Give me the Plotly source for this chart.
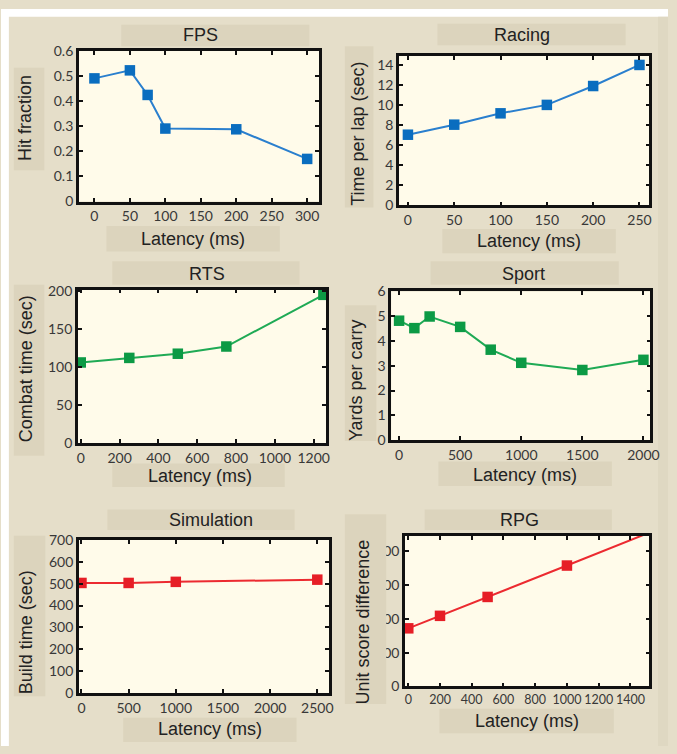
import plotly.graph_objects as go

W, H = 677, 754

# ---------------- data ----------------
fps_x = [0, 50, 75, 100, 200, 300]
fps_y = [0.491, 0.523, 0.425, 0.291, 0.288, 0.170]

racing_x = [0, 50, 100, 150, 200, 250]
racing_y = [7.05, 8.05, 9.18, 10.02, 11.9, 14.0]

rts_x = [0, 250, 500, 750, 1250]
rts_y = [106, 112, 117.5, 127, 195]

sport_x = [0, 125, 250, 500, 750, 1000, 1500, 2000]
sport_y = [4.82, 4.52, 4.99, 4.57, 3.65, 3.12, 2.83, 3.24]

sim_x = [0, 500, 1000, 2500]
sim_y = [503, 503, 508, 518]

rpg_x = [0, 200, 500, 1000]
rpg_y = [172, 209, 265, 358]
rpg_line_x = [0, 200, 500, 1000, 1500]
rpg_line_y = [172, 209, 265, 358, 452]

titles = ["FPS", "Racing", "RTS", "Sport", "Simulation", "RPG"]
ylabels = ["Hit fraction", "Time per lap (sec)", "Combat time (sec)",
           "Yards per carry", "Build time (sec)", "Unit score difference"]
xlabel = "Latency (ms)"

x_ticks = [
    [0, 50, 100, 150, 200, 250, 300],
    [0, 50, 100, 150, 200, 250],
    [0, 200, 400, 600, 800, 1000, 1200],
    [0, 500, 1000, 1500, 2000],
    [0, 500, 1000, 1500, 2000, 2500],
    [0, 200, 400, 600, 800, 1000, 1200, 1400],
]
y_ticks = [
    [0, 0.1, 0.2, 0.3, 0.4, 0.5, 0.6],
    [0, 2, 4, 6, 8, 10, 12, 14],
    [0, 50, 100, 150, 200],
    [0, 1, 2, 3, 4, 5, 6],
    [0, 100, 200, 300, 400, 500, 600, 700],
    [0, 100, 200, 300, 400],
]
x_ranges = [[-22, 317], [-9.6, 260.6], [-15, 1264], [-65, 2056], [-28, 2625], [-21, 1519]]
y_ranges = [[0, 0.6], [0, 14.9], [0, 202], [0, 6], [0, 700], [0, 446]]

# ---------------- layout geometry (pixels) ----------------
plot_px = [  # left, right, top, bottom
    (79, 323, 43, 197),
    (404, 658, 48, 201),
    (78, 330, 287, 444),
    (396, 659, 289, 441),
    (79, 333, 543, 700),
    (410, 658, 539, 693),
]
title_box = [(122, 313, 16, 38), (443, 634, 15, 37), (113, 303, 258, 282),
             (436, 627, 258, 282), (108, 298, 512, 533), (430, 620, 512, 533)]
xlab_box = [(107, 283, 222, 248), (448, 624, 225, 250), (113, 288, 465, 489),
            (444, 620, 463, 488), (124, 300, 725, 750), (445, 622, 716, 741)]
ylab_box = [(13, 44, 60, 165), (349, 378, 38, 203), (13, 44, 282, 457),
            (349, 381, 303, 442), (13, 45, 539, 703), (349, 391, 517, 711)]
title_pos = [(202, 27), (529, 27), (209, 271), (530, 271), (213, 523), (526, 523)]
xlab_pos = [(195, 235), (536, 237), (202, 478), (532, 477), (212, 737), (534, 728)]
ylab_pos = [(25, 112), (362, 128), (25, 368), (361, 380), (25, 638), (367, 627)]

BLUE_L, BLUE_M = "#2a7fce", "#0a6dbf"
GREEN_L, GREEN_M = "#1faa55", "#0c9a45"
RED_L, RED_M = "#ec2a30", "#e61e26"

def px(x):
    return x / W

def py(y):
    return 1 - y / H

fig = go.Figure()

series = [
    (fps_x, fps_y, BLUE_L, BLUE_M),
    (racing_x, racing_y, BLUE_L, BLUE_M),
    (rts_x, rts_y, GREEN_L, GREEN_M),
    (sport_x, sport_y, GREEN_L, GREEN_M),
    (sim_x, sim_y, RED_L, RED_M),
]
for i, (xs, ys, lc, mc) in enumerate(series):
    n = "" if i == 0 else str(i + 1)
    fig.add_trace(go.Scatter(
        x=xs, y=ys, mode="lines+markers", xaxis="x" + n, yaxis="y" + n,
        line=dict(color=lc, width=2),
        marker=dict(symbol="square", size=10.5, color=mc),
        showlegend=False, cliponaxis=False))

fig.add_trace(go.Scatter(x=rpg_line_x, y=rpg_line_y, mode="lines", xaxis="x6", yaxis="y6",
                         line=dict(color=RED_L, width=2), showlegend=False))
fig.add_trace(go.Scatter(x=rpg_x, y=rpg_y, mode="markers", xaxis="x6", yaxis="y6",
                         marker=dict(symbol="square", size=10.5, color=RED_M),
                         showlegend=False, cliponaxis=False))

TICKFAM = "Lato, 'Open Sans', sans-serif"
axis_common = dict(showline=True, linecolor="#111111", linewidth=2.5, mirror="ticks",
                   ticks="inside", ticklen=4, tickwidth=2, tickcolor="#111111",
                   showgrid=False, zeroline=False, fixedrange=True, tickangle=0)

for i in range(6):
    n = "" if i == 0 else str(i + 1)
    l, r, t, b = plot_px[i]
    xsize = 12.5 if i == 5 else 14
    fig.layout["xaxis" + n] = dict(domain=[px(l), px(r)], anchor="y" + n,
                                   range=x_ranges[i], tickvals=x_ticks[i],
                                   tickfont=dict(family=TICKFAM, size=xsize, color="#383838"),
                                   **axis_common)
    fig.layout["yaxis" + n] = dict(domain=[py(b), py(t)], anchor="x" + n,
                                   range=y_ranges[i], tickvals=y_ticks[i],
                                   tickfont=dict(family=TICKFAM, size=14, color="#383838"),
                                   **axis_common)

shapes = []
BOX = "#dcd4bd"
# white strips around the scanned page
shapes.append(dict(type="rect", xref="paper", yref="paper", x0=0, x1=1, y0=py(8), y1=1,
                   fillcolor="white", line_width=0, layer="below"))
shapes.append(dict(type="rect", xref="paper", yref="paper", x0=0, x1=px(8), y0=0, y1=1,
                   fillcolor="white", line_width=0, layer="below"))
shapes.append(dict(type="rect", xref="paper", yref="paper", x0=px(667), x1=1, y0=0, y1=py(8),
                   fillcolor="#dfd8c2", line_width=0, layer="below"))
for i in range(6):
    for (l, r, t, b) in (title_box[i], xlab_box[i]):
        shapes.append(dict(type="rect", xref="paper", yref="paper",
                           x0=px(l), x1=px(r), y0=py(b), y1=py(t),
                           fillcolor=BOX, line_width=0, layer="below"))
    l, r, t, b = ylab_box[i]
    shapes.append(dict(type="rect", xref="paper", yref="paper",
                       x0=px(l), x1=px(r), y0=py(b), y1=py(t),
                       fillcolor=BOX, line_width=0,
                       layer="above" if i == 5 else "below"))

annotations = []
labfont = dict(family="Liberation Sans, Arial, sans-serif", size=18, color="#222222")
for i in range(6):
    annotations.append(dict(text=titles[i], x=px(title_pos[i][0]), y=py(title_pos[i][1]),
                            xref="paper", yref="paper", showarrow=False, font=labfont,
                            xanchor="center", yanchor="middle"))
    annotations.append(dict(text=xlabel, x=px(xlab_pos[i][0]), y=py(xlab_pos[i][1]),
                            xref="paper", yref="paper", showarrow=False, font=labfont,
                            xanchor="center", yanchor="middle"))
    annotations.append(dict(text=ylabels[i], x=px(ylab_pos[i][0]), y=py(ylab_pos[i][1]),
                            xref="paper", yref="paper", showarrow=False, font=labfont,
                            textangle=-90, xanchor="center", yanchor="middle"))

fig.update_layout(width=W, height=H, margin=dict(l=0, r=0, t=0, b=0),
                  paper_bgcolor="#e5dec9", plot_bgcolor="#fffbea",
                  shapes=shapes, annotations=annotations, showlegend=False)

fig.write_html("out.html", config={"displayModeBar": False},
               post_script="document.body.style.margin='0';document.body.style.overflow='hidden';")
